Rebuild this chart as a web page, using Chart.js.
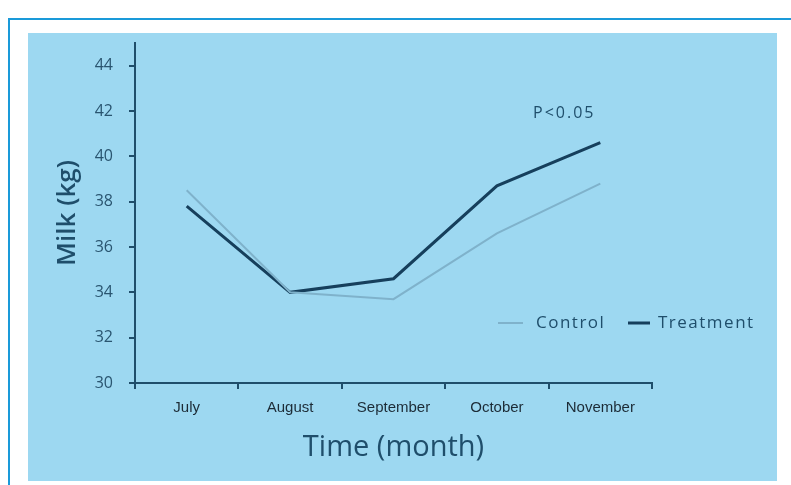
<!DOCTYPE html>
<html>
<head>
<meta charset="utf-8">
<script src="https://cdn.jsdelivr.net/npm/chart.js@4"></script>
<style>
  body { margin: 0; background: #ffffff; }
  #frame { position: absolute; left: 8px; top: 18px; width: 790px; height: 480px;
           border-left: 2px solid #1a9ad9; border-top: 2px solid #1a9ad9; }
  #panel { position: absolute; left: 28px; top: 33px; width: 749px; height: 448px; background: #9dd8f1; }
</style>
</head>
<body>
<div id="frame"></div>
<div id="panel"><canvas id="milk_chart" width="749" height="448"></canvas></div>
<script>
// data
const months = ['July', 'August', 'September', 'October', 'November'];
const control = [38.5, 34.0, 33.7, 36.6, 38.8];
const treatment = [37.8, 34.0, 34.6, 38.7, 40.6];
const yTicks = [30, 32, 34, 36, 38, 40, 42, 44];

const textColor = '#1f4e6b';
const axisColor = '#1f4e6b';

// legend + p value drawn inside the plot
const extras = {
    id: 'extras',
    afterDatasetsDraw(chart) {
        const ctx = chart.ctx;
        const area = chart.chartArea;
        ctx.save();
        // P value above last treatment point
        const pt = chart.getDatasetMeta(1).data[4];
        ctx.fillStyle = textColor;
        ctx.font = '16px "Open Sans"';
        ctx.letterSpacing = '2px';
        ctx.textAlign = 'center';
        ctx.textBaseline = 'middle';
        ctx.fillText('P<0.05', pt.x - 36, pt.y - 29);

        // legend
        const ly = area.bottom - 60;
        let lx = area.right - 154;
        ctx.textAlign = 'left';
        ctx.font = '17px "Open Sans"';
        ctx.letterSpacing = '1.5px';
        ctx.strokeStyle = '#7fb2cb';
        ctx.lineWidth = 2;
        ctx.beginPath(); ctx.moveTo(lx, ly); ctx.lineTo(lx + 25, ly); ctx.stroke();
        ctx.fillText('Control', lx + 38, ly);
        lx += 130;
        ctx.strokeStyle = '#163f5c';
        ctx.lineWidth = 3;
        ctx.beginPath(); ctx.moveTo(lx, ly); ctx.lineTo(lx + 22, ly); ctx.stroke();
        ctx.fillText('Treatment', lx + 30, ly);
        ctx.restore();
    }
};

var ctx = document.getElementById('milk_chart').getContext('2d');
var milkChart = new Chart(ctx, {
    type: 'line',
    data: {
        labels: months,
        datasets: [{
            label: 'Control',
            data: control,
            borderColor: '#7fb2cb',
            borderWidth: 2,
            pointRadius: 0,
            tension: 0
        }, {
            label: 'Treatment',
            data: treatment,
            borderColor: '#163f5c',
            borderWidth: 3,
            pointRadius: 0,
            tension: 0
        }]
    },
    options: {
        responsive: false,
        animation: false,
        layout: { padding: { top: 10, right: 125, bottom: 12, left: 20 } },
        plugins: {
            legend: { display: false },
            tooltip: { enabled: false }
        },
        scales: {
            x: {
                offset: true,
                grid: { drawOnChartArea: false, offset: true, color: axisColor, tickLength: 6, lineWidth: 2 },
                border: { color: axisColor, width: 2 },
                ticks: { color: '#1c2b36', font: { family: '"Liberation Sans"', size: 15 }, padding: 10, maxRotation: 0 },
                title: { display: true, text: 'Time (month)', color: textColor, font: { family: '"Open Sans"', size: 29 }, padding: { top: 0 } },
                afterFit(scale) { scale.height = 86; scale.paddingTop = 0; }
            },
            y: {
                min: 30,
                max: 45,
                grid: { drawOnChartArea: false, color: axisColor, tickLength: 6, lineWidth: 2 },
                border: { color: axisColor, width: 2 },
                afterBuildTicks(scale) { scale.ticks = yTicks.map(v => ({ value: v })); },
                ticks: { color: '#2a5570', font: { family: '"Open Sans"', size: 16 }, padding: 16 },
                title: { display: true, text: 'Milk (kg)', color: textColor, font: { family: '"Open Sans"', size: 26, weight: '600' }, padding: { bottom: 0 } },
                afterFit(scale) { scale.width = 87; scale.paddingTop = 0; scale.paddingBottom = 0; }
            }
        }
    },
    plugins: [extras]
});
</script>
</body>
</html>
